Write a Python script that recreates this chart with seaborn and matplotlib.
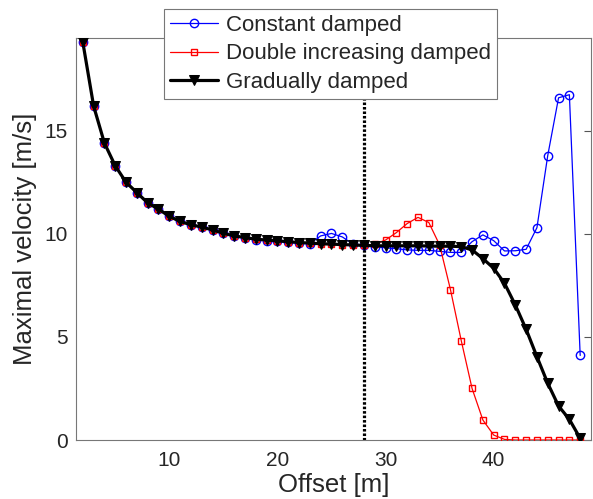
import matplotlib
matplotlib.use("Agg")
import matplotlib.pyplot as plt
import seaborn as sns
import numpy as np
import pandas as pd

offset = list(range(2, 49))

gradual = [19.3, 16.2, 14.4, 13.3, 12.5, 12.0, 11.5, 11.2, 10.85, 10.6,
           10.44, 10.33, 10.19, 10.03, 9.9, 9.82, 9.74, 9.70, 9.66, 9.62,
           9.58, 9.55, 9.52, 9.50, 9.48, 9.46, 9.44, 9.42, 9.42, 9.42,
           9.42, 9.42, 9.41, 9.40, 9.40, 9.38, 9.22, 8.8, 8.33, 7.6,
           6.55, 5.37, 4.04, 2.75, 1.65, 1.0, 0.08]

constant = [19.3, 16.2, 14.4, 13.3, 12.5, 12.0, 11.5, 11.2, 10.85, 10.6,
            10.44, 10.33, 10.19, 10.03, 9.88, 9.8, 9.72, 9.67, 9.63, 9.59,
            9.55, 9.53, 9.9, 10.02, 9.85, 9.5, 9.45, 9.38, 9.32, 9.28,
            9.22, 9.2, 9.2, 9.15, 9.1, 9.1, 9.62, 9.95, 9.67, 9.17,
            9.18, 9.25, 10.3, 13.8, 16.6, 16.75, 4.1]

double_inc = [19.3, 16.2, 14.4, 13.3, 12.5, 12.0, 11.5, 11.2, 10.85, 10.6,
              10.44, 10.33, 10.19, 10.03, 9.9, 9.82, 9.74, 9.70, 9.66, 9.62,
              9.58, 9.55, 9.52, 9.50, 9.48, 9.46, 9.44, 9.5, 9.7, 10.06,
              10.5, 10.8, 10.55, 9.46, 7.3, 4.82, 2.5, 0.97, 0.24, 0.03,
              0.0, 0.0, 0.0, 0.0, 0.0, 0.0, 0.0]

labels = ["Constant damped", "Double increasing damped", "Gradually damped"]
x_ticks = [10, 20, 30, 40]
y_ticks = [0, 5, 10, 15]
divider_x = 28

sns.set_style("white")
plt.rcParams['font.family'] = ['Liberation Sans', 'DejaVu Sans']

fig = plt.figure(figsize=(5.93, 4.99), dpi=100)
ax = fig.add_axes([76/593, 1-440/499, (591-76)/593, (440-38)/499])

df = pd.DataFrame({"offset": offset, "c": constant, "d": double_inc, "g": gradual})

ax.axvline(divider_x, color='black', linestyle=(0, (0.8, 0.6)), linewidth=2.3, zorder=1)

sns.lineplot(data=df, x="offset", y="c", ax=ax, color='blue', linewidth=0.9,
             marker='o', markersize=6, markerfacecolor='none', markeredgecolor='blue',
             markeredgewidth=1.0, label=labels[0], zorder=3)
sns.lineplot(data=df, x="offset", y="d", ax=ax, color='red', linewidth=0.9,
             marker='s', markersize=5, markerfacecolor='none', markeredgecolor='red',
             markeredgewidth=1.0, label=labels[1], zorder=4)
sns.lineplot(data=df, x="offset", y="g", ax=ax, color='black', linewidth=2.3,
             marker='v', markersize=6.5, markerfacecolor='black', markeredgecolor='black',
             label=labels[2], zorder=5)

ax.set_xlim(1.37, 49.0)
ax.set_ylim(0, 19.5)
ax.set_xticks(x_ticks)
ax.set_yticks(y_ticks)
ax.set_xlabel("Offset [m]", fontsize=18.5, labelpad=2)
ax.set_ylabel("Maximal velocity [m/s]", fontsize=18.5, labelpad=5)
ax.tick_params(direction='in', length=5, width=0.8, color='#555555',
               labelsize=15, top=True, right=True, pad=8)
ax.tick_params(axis='y', pad=6)
for s in ax.spines.values():
    s.set_color('#777777')
    s.set_linewidth(0.8)
    s.set_visible(True)

leg = ax.legend(loc='upper left', bbox_to_anchor=(164/593, 1-9/499),
                bbox_transform=fig.transFigure, fontsize=16, frameon=True,
                fancybox=False, edgecolor='#777777', framealpha=1,
                borderaxespad=0, handlelength=2.2, handletextpad=0.35,
                labelspacing=0.35, borderpad=0.25)
leg.get_frame().set_linewidth(0.8)
leg.set_zorder(10)

fig.savefig("out.png", dpi=100)
